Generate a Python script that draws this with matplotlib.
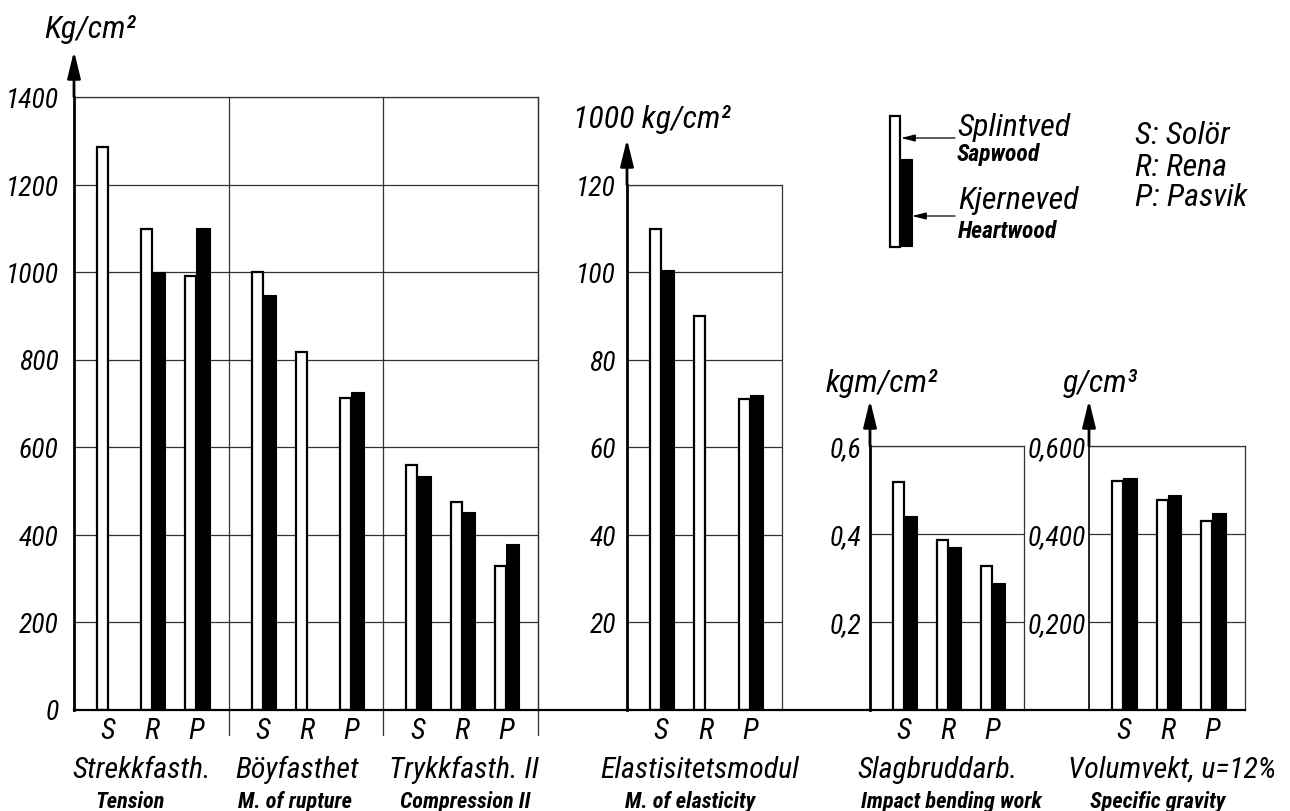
import numpy as np
import matplotlib
matplotlib.use('Agg')
import matplotlib.pyplot as plt
from matplotlib.patches import Rectangle

# data (S: Solör, R: Rena, P: Pasvik)
sites = ['S', 'R', 'P']
tension_sap = [1286, 1098, 990]
tension_heart = [np.nan, 1000, 1100]
rupture_sap = [1000, 817, 712]
rupture_heart = [948, np.nan, 726]
compr_sap = [559, 474, 328]
compr_heart = [534, 451, 378]
elast_sap = [110, 90, 71]
elast_heart = [100.5, np.nan, 72]
impact_sap = [0.518, 0.385, 0.326]
impact_heart = [0.440, 0.369, 0.289]
gravity_sap = [0.520, 0.477, 0.429]
gravity_heart = [0.527, 0.488, 0.447]

main_ticks = [0, 200, 400, 600, 800, 1000, 1200, 1400]
elast_ticks = [20, 40, 60, 80, 100, 120]
impact_ticks = [0.2, 0.4, 0.6]
impact_labels = ['0,2', '0,4', '0,6']
gravity_ticks = [0.2, 0.4, 0.6]
gravity_labels = ['0,200', '0,400', '0,600']

plt.rcParams['font.family'] = ['Roboto Condensed', 'Liberation Sans']
plt.rcParams['font.style'] = 'italic'

W, H = 1290, 812
BASE = 710.5
fig = plt.figure(figsize=(12.9, 8.12), dpi=100)

site_x = np.array([0.77, 1.77, 2.77])
GW = 3.5
GRID = '#333333'
TICK = 20


def box(left, right, top):
    return [left / W, 1 - BASE / H, (right - left) / W, (BASE - top) / H]


def pairs(ax, x0, sap, heart):
    sap = np.array(sap, float)
    heart = np.array(heart, float)
    x = x0 + site_x
    m = np.isfinite(sap)
    ax.bar(x[m] - 0.25, sap[m], width=0.25, align='edge', color='white',
           edgecolor='black', lw=1.6, zorder=3)
    m = np.isfinite(heart)
    ax.bar(x[m], heart[m], width=0.3, align='edge', color='black',
           edgecolor='black', lw=0.8, zorder=3)


def style(ax, ngroups, ymax, ticks, labels, top_px, pad=10):
    ax.set_xlim(0, GW * ngroups)
    ax.set_ylim(0, ymax)
    ax.set_yticks(ticks, labels)
    ax.tick_params(axis='y', length=0, labelsize=TICK, pad=pad)
    ax.tick_params(axis='x', length=0, labelsize=21, pad=5)
    ax.grid(axis='y', color=GRID, lw=0.9)
    ax.set_axisbelow(True)
    ax.patch.set_visible(False)
    ax.spines['bottom'].set_visible(False)
    ax.spines['left'].set_linewidth(2.0)
    for s in ('top', 'right'):
        ax.spines[s].set_linewidth(0.9)
        ax.spines[s].set_color(GRID)
    xs = np.concatenate([g * GW + site_x for g in range(ngroups)])
    ax.set_xticks(xs, sites * ngroups)
    # axis arrow
    frac = 1 + 46 / (BASE - top_px)
    ax.annotate('', xy=(0, frac), xytext=(0, 1), xycoords='axes fraction',
                arrowprops=dict(arrowstyle='-|>,head_length=0.9,head_width=0.22',
                                lw=2, color='black', shrinkA=0, shrinkB=0,
                                mutation_scale=18), annotation_clip=False)


# main panel: strength values in kg/cm2
ax1 = fig.add_axes(box(74, 538, 98))
pairs(ax1, 0, tension_sap, tension_heart)
pairs(ax1, GW, rupture_sap, rupture_heart)
pairs(ax1, 2 * GW, compr_sap, compr_heart)
style(ax1, 3, 1400, main_ticks, [str(t) for t in main_ticks], 98, pad=11)
for xv in (GW, 2 * GW, 3 * GW):
    ax1.axvline(xv, ymin=-0.042, ymax=1, color=GRID, lw=0.9, clip_on=False)

# modulus of elasticity
ax2 = fig.add_axes(box(627, 782, 186))
pairs(ax2, 0, elast_sap, elast_heart)
style(ax2, 1, 120, elast_ticks, [str(t) for t in elast_ticks], 186, pad=8)

# impact bending work
ax3 = fig.add_axes(box(870, 1024, 447))
pairs(ax3, 0, impact_sap, impact_heart)
style(ax3, 1, 0.6, impact_ticks, impact_labels, 447, pad=6)

# specific gravity
ax4 = fig.add_axes(box(1089, 1245, 447))
pairs(ax4, 0, gravity_sap, gravity_heart)
style(ax4, 1, 0.6, gravity_ticks, gravity_labels, 447, pad=2)
ax4.spines['left'].set_linewidth(1.2)

# common base line
fig.add_artist(plt.Line2D([74 / W, 1245 / W], [1 - BASE / H] * 2,
                          color='black', lw=1.6))


def ftext(x, y, s, size, **kw):
    fig.text(x / W, 1 - y / H, s, fontsize=size, **kw)


# unit labels
ftext(90, 30, 'Kg/cm²', 23, ha='center', va='center')
ftext(652, 120, '1000 kg/cm²', 23, ha='center', va='center')
ftext(882, 383, 'kgm/cm²', 23, ha='center', va='center')
ftext(1100, 383, 'g/cm³', 23, ha='center', va='center')

# category names
names = [(142, 'Strekkfasth.'), (297, 'Böyfasthet'), (464, 'Trykkfasth. II'),
         (700, 'Elastisitetsmodul'), (937, 'Slagbruddarb.'), (1172, 'Volumvekt, u=12%')]
english = [(130, 'Tension'), (295, 'M. of rupture'), (465, 'Compression II'),
           (690, 'M. of elasticity'), (951, 'Impact bending work'), (1158, 'Specific gravity')]
for x, s in names:
    ftext(x, 770, s, 21.5, ha='center', va='center')
for x, s in english:
    ftext(x, 802, s, 16, ha='center', va='center', fontweight='bold')

# legend
fig.patches.append(Rectangle((890 / W, 1 - 248 / H), 10 / W, 131 / H,
                             transform=fig.transFigure, facecolor='white',
                             edgecolor='black', lw=1.6))
fig.patches.append(Rectangle((900 / W, 1 - 247 / H), 12 / W, 87 / H,
                             transform=fig.transFigure, facecolor='black',
                             edgecolor='black', lw=0.8))
for ya, xb in ((139, 901), (217, 912)):
    ax1.annotate('', xy=(xb, H - ya), xycoords='figure pixels',
                 xytext=(955, H - ya), textcoords='figure pixels',
                 arrowprops=dict(arrowstyle='-|>,head_length=0.6,head_width=0.15',
                                 lw=0.9, color='black', shrinkA=0, shrinkB=0,
                                 mutation_scale=14), annotation_clip=False)
ftext(957, 127, 'Splintved', 23, va='center')
ftext(957, 155, 'Sapwood', 17, va='center', fontweight='bold')
ftext(958, 201, 'Kjerneved', 23, va='center')
ftext(958, 231, 'Heartwood', 17, va='center', fontweight='bold')
ftext(1135, 136, 'S: Solör', 23, va='center')
ftext(1135, 168, 'R: Rena', 23, va='center')
ftext(1135, 198, 'P: Pasvik', 23, va='center')

fig.savefig('out.png', dpi=100, facecolor='white')
